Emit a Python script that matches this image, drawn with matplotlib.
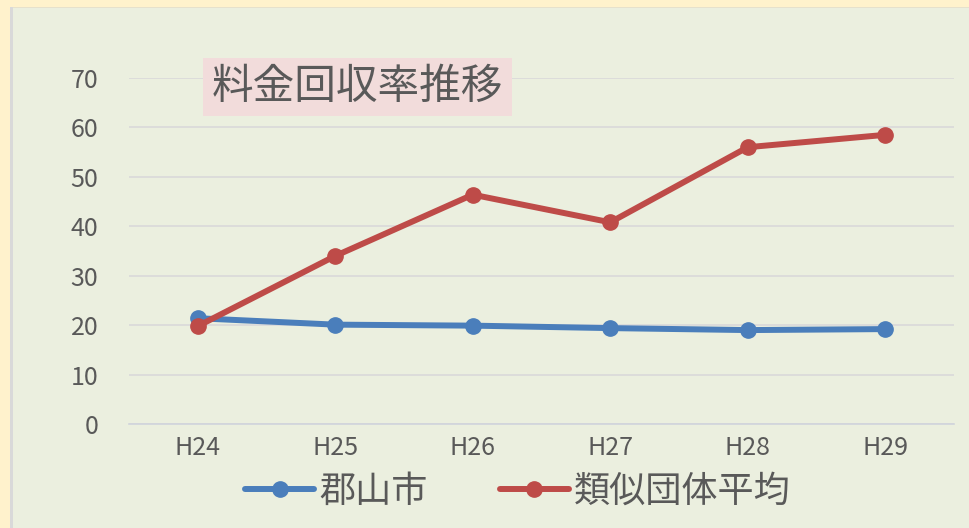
import matplotlib
matplotlib.use("Agg")
import matplotlib.pyplot as plt
from matplotlib.patches import Rectangle

plt.rcParams['font.family'] = ['Noto Sans CJK JP', 'DejaVu Sans']

categories = ["H24", "H25", "H26", "H27", "H28", "H29"]
koriyama = [21.4, 20.1, 19.9, 19.4, 19.0, 19.2]
similar_avg = [19.8, 34.0, 46.4, 40.8, 56.0, 58.5]
series_names = ["郡山市", "類似団体平均"]
title_text = "料金回収率推移"
yticks = [0, 10, 20, 30, 40, 50, 60, 70]

W, H = 970, 528
fig = plt.figure(figsize=(W / 100, H / 100), dpi=100)
fig.patch.set_facecolor("#FFF2CC")

# inner panel with left grey border
fig.patches.append(Rectangle((10 / W, 0), 3 / W, 1 - 7 / H, transform=fig.transFigure,
                             facecolor="#D9D9D9", edgecolor="none", zorder=-10))
fig.patches.append(Rectangle((13 / W, 0), 1, 1 - 8 / H, transform=fig.transFigure,
                             facecolor="#EBEFDF", edgecolor="none", zorder=-10))
fig.patches.append(Rectangle((13 / W, 1 - 8 / H), 1, 1 / H, transform=fig.transFigure,
                             facecolor="#E6E1CC", edgecolor="none", zorder=-10))

left, right = 129 / W, 954 / W
bottom, top = 1 - 424 / H, 1 - 78 / H
ax = fig.add_axes([left, bottom, right - left, top - bottom])
ax.set_facecolor("none")
x = list(range(len(categories)))
ax.plot(x, koriyama, color="#4A7EBB", lw=4.3, marker="o", ms=11,
        solid_capstyle="round", label=series_names[0], zorder=3, clip_on=False)
ax.plot(x, similar_avg, color="#BE4B48", lw=4.3, marker="o", ms=11,
        solid_capstyle="round", label=series_names[1], zorder=4, clip_on=False)

ax.set_xlim(-0.5, len(categories) - 0.5)
ax.set_ylim(0, 70)
ax.set_yticks(yticks)
ax.set_xticks(x)
ax.set_xticklabels(categories)
ax.yaxis.grid(True, color="#D9D9D9", lw=1.2)
ax.set_axisbelow(True)
for s in ["top", "right", "left"]:
    ax.spines[s].set_visible(False)
ax.spines["bottom"].set_color("#D0D4DC")
ax.spines["bottom"].set_linewidth(1.2)
ax.tick_params(axis="both", length=0, colors="#595959", labelsize=18)
ax.tick_params(axis="y", pad=22)
ax.tick_params(axis="x", pad=8)

# title box
fig.text(357.5 / W, 1 - 87 / H, title_text, ha="center", va="center",
         fontsize=30, color="#595959", zorder=5,
         bbox=dict(boxstyle="square,pad=0.2", facecolor="#F2DCDB", edgecolor="none"))

leg = fig.legend(loc="center", bbox_to_anchor=(518 / W, 1 - 492 / H), ncol=2,
                 frameon=False, fontsize=26, handlelength=1.9, handletextpad=0.15,
                 columnspacing=2.0, labelcolor="#595959")

fig.savefig("out.png", dpi=100, facecolor=fig.get_facecolor())
